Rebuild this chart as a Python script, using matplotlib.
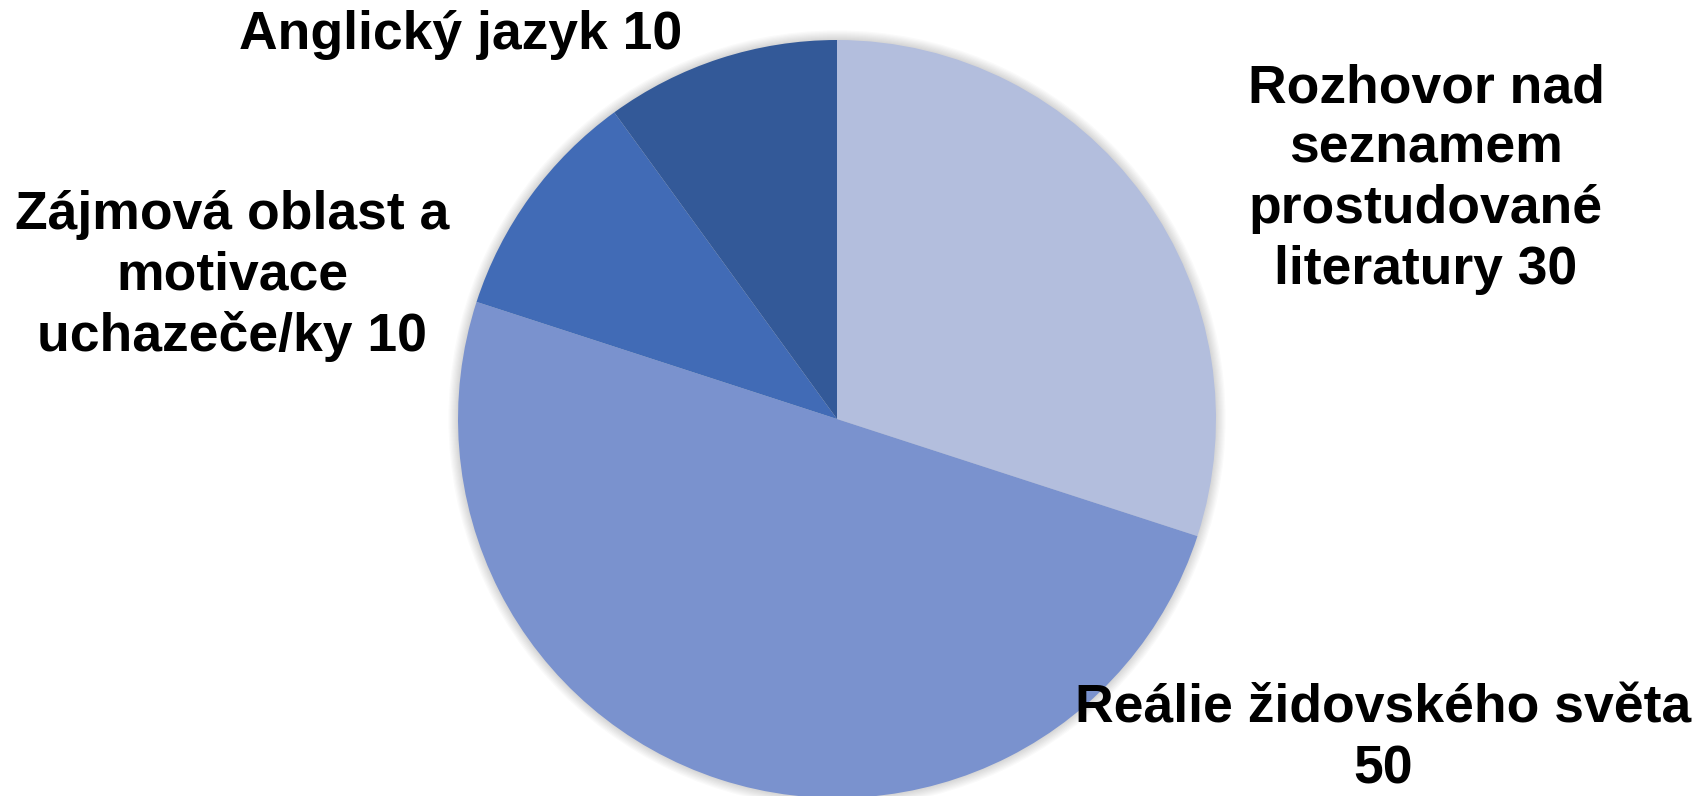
import matplotlib.pyplot as plt
from matplotlib.patches import Circle

labels = ['Rozhovor nad\nseznamem\nprostudované\nliteratury', 'Reálie židovského světa\n',
          'Zájmová oblast a\nmotivace\nuchazeče/ky', 'Anglický jazyk']
values = [30, 50, 10, 10]
colors = ['#B3BEDD', '#7A92CE', '#416BB6', '#335998']

# label anchor points in pixels (x centre, baseline of last line from top)
label_pos = [(1426, 284), (1383, 783), (232, 351), (461, 49)]

W, H = 1701, 796
fig = plt.figure(figsize=(W / 100, H / 100), dpi=100)
ax = fig.add_axes([0, 0, 1, 1])

cx, cy, r = 837, H - 419, 379

# soft shadow round the pie
for i in range(8, 0, -1):
    ax.add_patch(Circle((cx, cy), r + i * 1.2, color='black', alpha=0.018, lw=0, zorder=0))

ax.pie(values, colors=colors, startangle=90, counterclock=False,
       center=(cx, cy), radius=r, wedgeprops=dict(linewidth=0))

for lab, v, (px, py) in zip(labels, values, label_pos):
    if lab.endswith('\n'):
        txt = lab + str(v)
    else:
        txt = lab + ' ' + str(v)
    ax.text(px, H - py, txt, ha='center', va='baseline', fontsize=38.5,
            fontweight='bold', family=['Liberation Sans', 'DejaVu Sans'],
            linespacing=1.27, multialignment='center', color='black')

ax.set_xlim(0, W)
ax.set_ylim(0, H)
ax.set_aspect('equal')
ax.axis('off')

fig.savefig('out.png', dpi=100, facecolor='white')
